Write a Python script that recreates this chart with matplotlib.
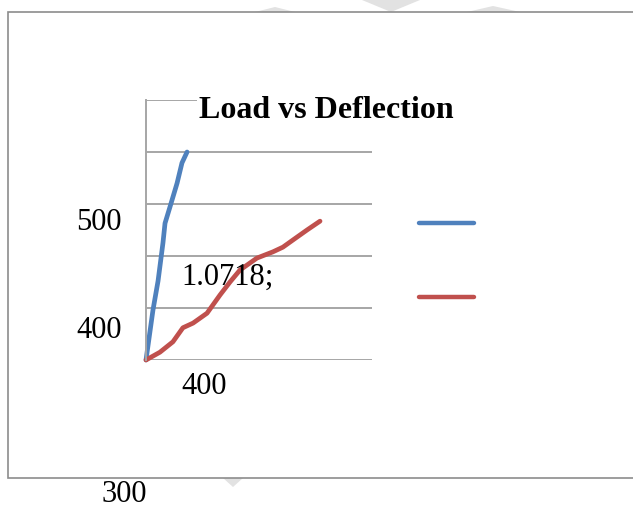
import matplotlib
matplotlib.use("Agg")
import matplotlib.pyplot as plt
from matplotlib.lines import Line2D
from matplotlib.patches import Rectangle, Polygon

W, H = 633, 508

# deflection (mm) / load (kN)
blue_x = [0, 0.37, 0.64, 0.90, 1.01, 1.27, 1.65, 1.91, 2.18]
blue_y = [0, 96, 152, 225, 263, 294, 340, 379, 400]
red_x = [0, 0.74, 1.43, 1.96, 2.50, 3.24, 3.93, 4.46, 4.99, 5.89, 6.74, 7.27, 7.81, 8.55, 9.24]
red_y = [0, 15, 35, 62, 71, 90, 125, 150, 173, 196, 208, 217, 231, 250, 267]
grid_vals = [0, 100, 200, 300, 400, 500]

# stray labels left over in the source picture
stray = [("500", 99, 223), ("400", 99, 331), ("1.0718;", 228, 277),
         ("400", 204, 386), ("300", 124, 494)]

blue = "#4F81BD"
red = "#C0504D"
grey = "#A6A6A6"


def fx(px):
    return px / W


def fy(py):
    return 1 - py / H


fig = plt.figure(figsize=(W / 100, H / 100), dpi=100)
fig.patch.set_facecolor("white")

# faint watermark fragments outside the chart box
wm = "#E2E2E2"
for pts in [[(362, 0), (420, 0), (391, 12)],
            [(255, 12), (275, 7), (295, 12)],
            [(467, 12), (493, 6), (520, 12)],
            [(223, 478), (243, 478), (233, 487)]]:
    fig.add_artist(Polygon([(fx(a), fy(b)) for a, b in pts], closed=True,
                           transform=fig.transFigure, color=wm, lw=0, zorder=-3))

# chart border
fig.add_artist(Rectangle((fx(8), fy(478)), fx(640) - fx(8), fy(12) - fy(478),
                         transform=fig.transFigure, facecolor="white",
                         edgecolor="#8C8C8C", lw=1.2, zorder=-2))

ax = fig.add_axes([fx(146), fy(360), fx(372) - fx(146), fy(100) - fy(360)])
ax.set_zorder(1)
ax.set_xlim(0, 12)
ax.set_ylim(0, 500)
ax.set_yticks(grid_vals)
ax.set_xticks([])
ax.tick_params(length=0, labelleft=False)
ax.yaxis.grid(True, color=grey, lw=1.4)
ax.set_axisbelow(True)
for s in ["top", "right", "bottom"]:
    ax.spines[s].set_visible(False)
ax.spines["left"].set_color(grey)
ax.spines["left"].set_linewidth(1.4)
ax.patch.set_alpha(0)

ax.plot(blue_x, blue_y, color=blue, lw=3.4, solid_capstyle="round",
        solid_joinstyle="round", clip_on=False)
ax.plot(red_x, red_y, color=red, lw=3.4, solid_capstyle="round",
        solid_joinstyle="round", clip_on=False)

fig.text(fx(326), fy(110), "Load vs Deflection", ha="center", va="center",
         fontsize=23, fontweight="bold", family="Liberation Serif",
         bbox=dict(facecolor="white", edgecolor="none", pad=1), zorder=5)

# legend keys without labels
for col, py in [(blue, 223), (red, 297)]:
    fig.add_artist(Line2D([fx(419), fx(474)], [fy(py), fy(py)], color=col, lw=3.2,
                          solid_capstyle="round", transform=fig.transFigure, zorder=3))

for txt, px, py in stray:
    fig.text(fx(px), fy(py), txt, ha="center", va="center", fontsize=22,
             family="Liberation Serif", zorder=6)

fig.savefig("out.png", dpi=100)
